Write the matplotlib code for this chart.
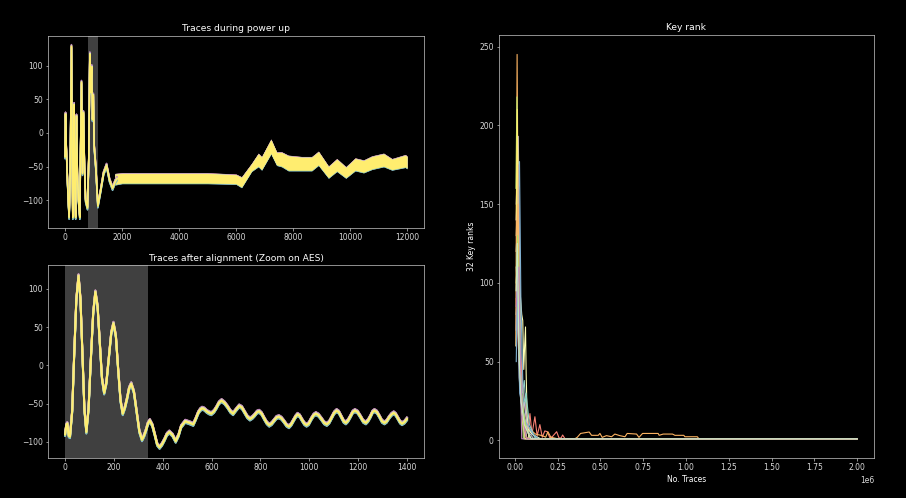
import numpy as np
import matplotlib
matplotlib.use("Agg")
import matplotlib.pyplot as plt

plt.style.use("dark_background")
plt.rcParams["font.size"] = 5.5
plt.rcParams["axes.titlesize"] = 6.6
plt.rcParams["axes.labelsize"] = 5.5
plt.rcParams["xtick.labelsize"] = 5.5
plt.rcParams["ytick.labelsize"] = 5.5
plt.rcParams["axes.linewidth"] = 0.5
plt.rcParams["xtick.major.width"] = 0.5
plt.rcParams["ytick.major.width"] = 0.5
plt.rcParams["xtick.major.size"] = 1.8
plt.rcParams["ytick.major.size"] = 1.8
plt.rcParams["xtick.major.pad"] = 1.8
plt.rcParams["ytick.major.pad"] = 1.8
plt.rcParams["axes.titlepad"] = 3.5
plt.rcParams["axes.labelpad"] = 2

colours = plt.rcParams["axes.prop_cycle"].by_key()["color"]

# small offsets between the stacked traces (last one drawn is yellow)
trace_offsets = [-3.0, 2.5, -1.5, 2.0, -2.5, 1.5, -1.0, 3.0, 1.0, 0.0]

# ---- power up, early swings
power_x = [0, 15, 40, 100, 141, 180, 223, 250, 270, 300, 317, 340, 370, 399, 430, 470,
           516, 545, 575, 610, 645, 680, 720, 786, 830, 868, 900, 935, 962, 990, 1021,
           1079, 1150, 1250, 1350, 1455, 1560, 1666, 1760, 1820]
power_y = [-35, 28, -20, -90, -125, -60, 128, -40, -125, -30, 42, -80, -125, 25, -60, -100,
           -125, -20, 75, -60, 30, -50, -100, -111, -40, 117, 60, 98, 20, 56, -20,
           -52, -108, -85, -60, -48, -70, -82, -72, -68]

# ---- power up, dense band (upper / lower envelope)
band_x = [1750, 2000, 3000, 4000, 5000, 6000, 6193, 6545, 6781, 6898, 7225, 7424, 7600,
          7835, 8305, 8657, 8892, 9244, 9537, 9854, 10182, 10476, 10769, 11180, 11473,
          11942, 11999]
band_hi = [-61, -60, -60, -60, -60, -62, -66, -46, -31, -36, -10, -29, -29, -34, -36, -36,
           -28, -50, -39, -51, -38, -41, -35, -31, -39, -33, -35]
band_lo = [-76, -74, -74, -74, -74, -75, -80, -56, -49, -54, -30, -47, -49, -55, -55, -55,
           -47, -66, -56, -66, -55, -58, -53, -49, -54, -50, -52]
power_span = (800, 1150)

# ---- after alignment
align_x = [0, 5, 9, 15, 20, 29, 37, 46, 55, 63, 71, 79, 87, 96, 105, 115, 124, 133, 142,
           151, 160, 169, 179, 189, 198, 208, 217, 227, 236, 245, 254, 262, 271, 282,
           293, 304, 315, 323, 331, 339, 347, 357, 367, 377, 387, 397, 407, 417, 427,
           440, 453, 465, 475, 492, 510, 525, 535, 545, 553, 561, 570, 580, 590, 599,
           610, 620, 630, 641, 653, 665, 677, 688, 700, 713, 724, 735, 746, 757, 767,
           776, 786, 795, 805, 815, 826, 836, 846, 856, 866, 876, 886, 896, 907, 917,
           926, 935, 944, 952, 961, 970, 980, 989, 998, 1008, 1018, 1027, 1038, 1050,
           1061, 1072, 1082, 1092, 1102, 1112, 1121, 1131, 1141, 1150, 1159, 1168,
           1178, 1187, 1198, 1210, 1221, 1232, 1241, 1250, 1259, 1267, 1277, 1288,
           1298, 1308, 1317, 1327, 1337, 1346, 1354, 1363, 1372, 1380, 1390, 1400]
align_y = [-90, -78, -76, -92, -93, -60, 12, 86, 117, 86, 15, -57, -87, -57, 5, 68, 96,
           77, 30, -17, -36, -23, 10, 42, 55, 38, -4, -46, -63, -55, -43, -30, -24, -35,
           -60, -86, -97, -92, -85, -76, -72, -78, -90, -103, -107, -103, -97, -90, -87,
           -91, -99, -91, -80, -73, -75, -77, -70, -62, -58, -56, -57, -60, -62, -63,
           -60, -55, -49, -46, -49, -54, -60, -63, -58, -53, -55, -61, -67, -70, -68,
           -65, -61, -60, -63, -69, -75, -78, -76, -72, -68, -67, -69, -73, -78, -80,
           -77, -72, -67, -64, -66, -71, -76, -78, -76, -70, -65, -63, -65, -70, -75,
           -77, -74, -68, -62, -59, -61, -67, -73, -75, -72, -67, -61, -59, -61, -67,
           -73, -75, -72, -67, -61, -59, -61, -67, -73, -75, -73, -68, -64, -62, -64,
           -69, -74, -76, -74, -70]
align_span = (0, 340)

# ---- key rank per key byte
rank_x = [
    [8e3, 15e3, 25e3, 35e3, 45e3, 55e3, 65e3, 80e3, 100e3, 130e3, 2e6],
    [8e3, 15e3, 22e3, 30e3, 40e3, 46e3, 52e3, 57e3, 62e3, 66e3, 72e3, 82e3, 2e6],
    [8e3, 20e3, 28e3, 40e3, 55e3, 2e6],
    [8e3, 18e3, 30e3, 45e3, 60e3, 75e3, 88e3, 100e3, 117e3, 130e3, 146e3, 160e3, 175e3,
     189e3, 205e3, 220e3, 244e3, 258e3, 270e3, 279e3, 293e3, 2e6],
    [8e3, 27e3, 35e3, 50e3, 70e3, 2e6],
    [5e3, 13e3, 20e3, 30e3, 50e3, 80e3, 120e3, 160e3, 180e3, 193e3, 210e3, 250e3, 300e3,
     350e3, 364e3, 384e3, 434e3, 448e3, 487e3, 497e3, 510e3, 535e3, 565e3, 584e3, 613e3,
     643e3, 656e3, 711e3, 725e3, 746e3, 837e3, 843e3, 866e3, 921e3, 935e3, 987e3, 993e3,
     1066e3, 1075e3, 2e6],
    [6e3, 12e3, 22e3, 35e3, 50e3, 2e6],
    [8e3, 18e3, 28e3, 40e3, 2e6],
    [8e3, 16e3, 26e3, 40e3, 60e3, 90e3, 2e6],
    [8e3, 14e3, 22e3, 30e3, 45e3, 60e3, 2e6],
    [8e3, 20e3, 30e3, 45e3, 65e3, 85e3, 120e3, 2e6],
    [8e3, 18e3, 30e3, 45e3, 70e3, 100e3, 150e3, 2e6],
    [8e3, 16e3, 25e3, 40e3, 55e3, 75e3, 110e3, 2e6],
    [8e3, 20e3, 35e3, 50e3, 70e3, 95e3, 2e6],
    [8e3, 15e3, 28e3, 42e3, 60e3, 80e3, 105e3, 140e3, 2e6],
    [8e3, 18e3, 26e3, 38e3, 52e3, 68e3, 80e3, 2e6],
    [8e3, 16e3, 30e3, 48e3, 66e3, 90e3, 100e3, 2e6],
    [8e3, 22e3, 34e3, 46e3, 62e3, 70e3, 2e6],
    [8e3, 14e3, 24e3, 36e3, 55e3, 85e3, 95e3, 2e6],
]
rank_y = [
    [95, 140, 70, 45, 30, 38, 20, 8, 4, 1, 1],
    [130, 156, 120, 95, 80, 76, 45, 60, 72, 42, 12, 1, 1],
    [150, 193, 110, 25, 1, 1],
    [100, 130, 60, 35, 20, 6, 17, 4, 15, 3, 10, 2, 6, 5.5, 1.5, 2.5, 5.5, 1.5, 1.5, 3.4,
     1, 1],
    [120, 177, 90, 20, 1, 1],
    [60, 245, 120, 40, 15, 8, 4, 3, 2, 5.5, 2, 1, 1, 1, 1.9, 4.4, 5.3, 3.2, 3.2, 4.4, 1.9,
     3, 2.3, 4, 3, 2.3, 4.4, 4, 1.9, 4.4, 4.4, 3.2, 4, 4, 3.2, 3.2, 2.3, 2.3, 1, 1],
    [160, 218, 130, 30, 1, 1],
    [140, 175, 60, 1, 1],
    [80, 100, 50, 25, 10, 1, 1],
    [140, 210, 90, 40, 15, 1, 1],
    [60, 110, 45, 20, 30, 10, 1, 1],
    [110, 80, 35, 15, 8, 4, 1, 1],
    [70, 120, 40, 18, 24, 6, 1, 1],
    [90, 60, 28, 12, 6, 1, 1],
    [50, 95, 30, 22, 12, 9, 4, 1, 1],
    [120, 150, 60, 30, 10, 2, 1, 1],
    [100, 130, 45, 20, 8, 2, 1, 1],
    [85, 110, 40, 15, 3, 1, 1],
    [95, 125, 55, 25, 10, 3, 1, 1],
]

fig = plt.figure(figsize=(9.06, 4.98), dpi=100)
ax_pw = fig.add_axes([0.053, 0.542, 0.415, 0.386])
ax_al = fig.add_axes([0.053, 0.081, 0.415, 0.386])
ax_kr = fig.add_axes([0.5504, 0.0803, 0.4146, 0.849])

# power up
ax_pw.axvspan(*power_span, color="gray", alpha=0.5, lw=0, zorder=0)
for i, off in enumerate(trace_offsets):
    c = colours[i % len(colours)]
    ax_pw.plot(power_x, np.array(power_y) + off, color=c, lw=1.1)
    ax_pw.fill_between(band_x, np.array(band_lo) + off * 0.4, np.array(band_hi) + off * 0.4,
                       color=c, lw=0)
ax_pw.set_title("Traces during power up")

# after alignment
ax_al.axvspan(*align_span, color="gray", alpha=0.5, lw=0, zorder=0)
for i, off in enumerate(trace_offsets):
    c = colours[i % len(colours)]
    ax_al.plot(align_x, np.array(align_y) + off * 0.7, color=c, lw=1.4)
ax_al.set_title("Traces after alignment (Zoom on AES)")

# key rank
for i in range(len(rank_x)):
    ax_kr.plot(rank_x[i], rank_y[i], color=colours[i % len(colours)], lw=0.8)
ax_kr.set_title("Key rank")
ax_kr.set_xlabel("No. Traces")
ax_kr.set_ylabel("32 Key ranks")

for ax in (ax_pw, ax_al, ax_kr):
    for s in ax.spines.values():
        s.set_color("#c8c8c8")
    ax.tick_params(colors="#c8c8c8", labelcolor="#d8d8d8")

fig.savefig("out.png", dpi=100, facecolor="black")
